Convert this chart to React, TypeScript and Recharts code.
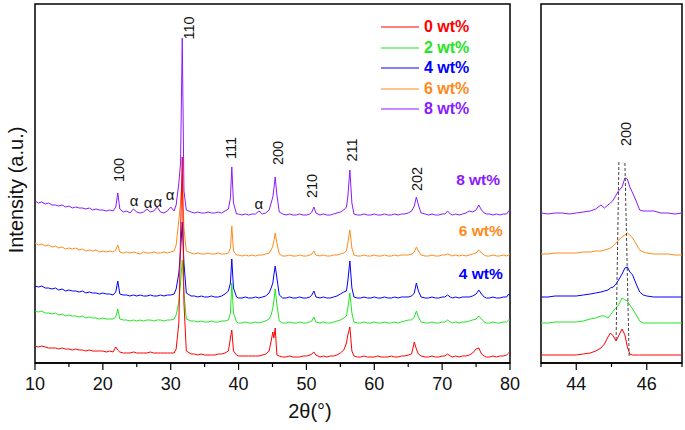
import React from "react";
import { LineChart, Line, XAxis, YAxis, Legend, ReferenceDot, ReferenceLine, ReferenceArea } from "recharts";

const font = "Arial, 'Liberation Sans', sans-serif";

const seriesNames = ["0 wt%", "2 wt%", "4 wt%", "6 wt%", "8 wt%"];
const seriesKeys = ["s0", "s2", "s4", "s6", "s8"];
const seriesColors = ["#ff0000", "#22e622", "#0000ff", "#ff8a1a", "#8a1aff"];
// order the traces are painted in (last one on top)
const drawOrder = [3, 2, 1, 0, 4];

// 2theta grid of the full scan
const twoTheta = [
  10, 10.5, 11, 11.5, 12, 12.5, 13, 13.5, 14, 14.5, 15, 15.5, 16, 16.5, 17, 17.5, 18, 18.5, 19, 19.5, 20, 20.5, 21, 21.5,
  21.9, 22.2, 22.5,
  23, 23.5, 24, 24.5, 25, 25.5, 26, 26.5, 27, 27.5, 28, 28.5, 29, 29.5, 30, 30.5,
  30.8, 31.2, 31.45, 31.7, 31.95, 32.3,
  33, 33.5, 34, 34.5, 35, 35.5, 36, 36.5, 37, 37.5, 38, 38.5,
  38.8, 39.0, 39.25,
  39.7, 40, 40.5, 41, 41.5, 42, 42.5, 43, 43.5, 44, 44.5,
  44.8, 45.05, 45.2, 45.4, 45.65, 46.0,
  46.5, 47, 47.5, 48, 48.5, 49, 49.5, 50, 50.5,
  50.8, 51.1, 51.4,
  52, 52.5, 53, 53.5, 54, 54.5, 55,
  55.5, 55.9, 56.1, 56.4, 56.7, 57.0,
  57.5, 58, 58.5, 59, 59.5, 60, 60.5, 61, 61.5, 62, 62.5, 63, 63.5, 64, 64.5, 65, 65.5,
  65.9, 66.2, 66.5, 66.9,
  67.5, 68, 68.5, 69, 69.5, 70, 70.4,
  70.8, 71.2,
  71.5, 72, 72.5, 73, 73.5, 74, 74.5,
  75.0, 75.4, 75.8, 76.2,
  76.5, 77, 77.5, 78, 78.5, 79, 79.5, 79.8, 80,
];

// stacked intensities (a.u.)
const int0 = [
  17, 16, 17, 16, 15, 15, 15, 14, 15, 14, 14, 13, 14, 13, 13, 12, 13, 12, 12, 12, 12, 11, 12, 11,
  16, 13, 11,
  10, 10, 10, 11, 10, 10, 10, 10, 11, 10, 10, 10, 10, 10, 10, 10,
  14, 40, 130, 206, 60, 12,
  9, 9, 8, 9, 8, 8, 8, 8, 9, 9, 10, 12,
  25, 33, 12,
  8, 7, 7, 7, 7, 7, 7, 7, 8, 9, 12,
  22, 31, 25, 35, 8, 7,
  6, 6, 7, 6, 6, 6, 7, 7, 8,
  9, 11, 8,
  6, 7, 6, 7, 7, 8, 10,
  13, 20, 28, 36, 12, 7,
  6, 6, 7, 6, 6, 6, 7, 6, 6, 6, 7, 6, 6, 7, 7, 8, 9,
  21, 14, 9, 7,
  6, 6, 7, 6, 6, 7, 7,
  9, 7,
  6, 7, 6, 7, 7, 8, 10,
  14, 15, 9, 7,
  6, 6, 7, 6, 7, 7, 8, 10, 9,
];
const int2 = [
  52, 51, 52, 50, 50, 49, 50, 48, 49, 47, 48, 47, 47, 46, 47, 45, 46, 45, 45, 44, 45, 44, 44, 44,
  46, 54, 44,
  43, 43, 42, 43, 42, 43, 42, 43, 43, 42, 43, 43, 42, 43, 43, 44,
  48, 61, 80, 103, 70, 44,
  42, 42, 41, 42, 41, 41, 42, 41, 41, 42, 42, 43,
  50, 80, 50,
  41, 40, 40, 41, 40, 40, 41, 40, 41, 42, 44,
  48, 55, 62, 74, 58, 42,
  40, 40, 41, 40, 40, 41, 40, 40, 41,
  42, 46, 41,
  40, 41, 40, 40, 41, 42, 43,
  45, 47, 55, 70, 50, 41,
  40, 40, 41, 40, 40, 41, 40, 40, 41, 40, 40, 41, 40, 41, 42, 43, 43,
  46, 52, 46, 41,
  40, 40, 41, 40, 40, 41, 41,
  43, 41,
  40, 41, 40, 41, 41, 42, 43,
  44, 47, 44, 41,
  40, 40, 41, 40, 40, 41, 41, 43, 43,
];
const int4 = [
  77, 76, 77, 75, 75, 74, 75, 73, 74, 72, 73, 72, 72, 71, 72, 70, 71, 70, 70, 69, 70, 69, 69, 68,
  71, 82, 69,
  68, 68, 67, 68, 67, 68, 67, 67, 68, 67, 67, 68, 67, 68, 68, 69,
  74, 90, 112, 141, 100, 70,
  67, 67, 66, 67, 66, 66, 67, 66, 66, 67, 69, 72,
  80, 104, 75,
  66, 65, 65, 66, 65, 65, 66, 65, 66, 67, 70,
  75, 80, 88, 97, 85, 68,
  65, 65, 66, 65, 65, 66, 65, 65, 66,
  68, 72, 66,
  65, 66, 65, 65, 66, 67, 69,
  71, 72, 82, 102, 75, 66,
  65, 65, 66, 65, 65, 66, 65, 65, 66, 65, 65, 66, 65, 66, 66, 66, 67,
  70, 80, 72, 66,
  65, 65, 66, 65, 65, 66, 66,
  68, 66,
  65, 66, 65, 66, 66, 66, 67,
  69, 73, 69, 66,
  65, 65, 66, 65, 65, 66, 66, 69, 67,
];
const int6 = [
  120, 118, 119, 117, 118, 116, 117, 115, 116, 114, 115, 114, 115, 113, 114, 112, 113, 112, 113, 111, 112, 111, 112, 111,
  113, 118, 111,
  110, 111, 110, 111, 110, 109, 111, 110, 110, 111, 110, 110, 111, 110, 111, 112,
  118, 143, 160, 188, 135, 112,
  110, 109, 110, 109, 109, 110, 109, 109, 110, 109, 109, 110,
  115, 137, 112,
  108, 108, 107, 108, 107, 108, 107, 108, 108, 109, 110,
  113, 117, 122, 130, 120, 109,
  107, 107, 108, 107, 107, 108, 107, 107, 108,
  109, 112, 108,
  107, 108, 107, 107, 108, 108, 109,
  110, 112, 120, 133, 115, 108,
  107, 107, 108, 107, 107, 108, 107, 107, 108, 107, 107, 108, 107, 108, 108, 108, 109,
  111, 116, 112, 108,
  107, 107, 108, 107, 107, 108, 108,
  109, 108,
  107, 108, 107, 108, 107, 108, 109,
  110, 113, 110, 108,
  107, 107, 108, 107, 107, 108, 107, 108, 109,
];
const int8 = [
  162, 160, 161, 159, 160, 158, 158, 157, 158, 156, 157, 155, 156, 155, 155, 154, 155, 153, 154, 153, 153, 152, 153, 152,
  156, 170, 154,
  151, 152, 150, 154, 151, 150, 151, 154, 151, 152, 156, 151, 150, 152, 156, 152,
  158, 180, 200, 325, 172, 153,
  151, 150, 151, 150, 150, 151, 150, 150, 151, 150, 152, 154,
  165, 196, 160,
  149, 149, 148, 149, 148, 149, 149, 152, 149, 150, 153,
  160, 166, 174, 186, 168, 151,
  149, 148, 149, 148, 148, 149, 148, 148, 149,
  151, 156, 150,
  148, 149, 148, 148, 149, 150, 151,
  153, 156, 166, 193, 160, 149,
  148, 148, 149, 148, 148, 149, 148, 148, 149, 148, 148, 149, 148, 149, 149, 150, 152,
  157, 166, 158, 150,
  149, 148, 149, 148, 148, 149, 149,
  152, 149,
  148, 149, 148, 149, 150, 152, 151,
  153, 158, 153, 150,
  149, 149, 148, 149, 148, 149, 149, 152, 151,
];

// close-up of the (200) reflection
const zoomTheta = [
  43.0, 43.2, 43.4, 43.6, 43.8, 44.0, 44.2, 44.4, 44.55, 44.7, 44.8, 44.9, 44.97, 45.05, 45.13,
  45.2, 45.3, 45.38, 45.45, 45.52, 45.6, 45.7, 45.8, 45.9, 46.0, 46.2, 46.4, 46.6, 46.8, 47.0,
];
const zoom0 = [8, 8, 8, 8, 8, 8, 9, 10, 12, 15, 19, 26, 30, 27, 22, 27, 34, 28, 16, 9, 8, 8, 8, 8, 8, 8, 8, 8, 8, 8];
const zoom2 = [40, 40, 41, 41, 41, 41, 42, 44, 45, 47, 47, 45, 48, 52, 55, 58, 65, 63, 62, 58, 54, 48, 42, 40, 40, 40, 40, 40, 40, 40];
const zoom4 = [66, 66, 67, 67, 67, 67, 68, 69, 70, 71, 72, 73, 75, 76, 79, 83, 89, 95, 96, 91, 88, 79, 71, 68, 67, 66, 66, 66, 66, 66];
const zoom6 = [109, 109, 110, 110, 110, 110, 111, 111, 112, 112, 113, 114, 115, 117, 120, 123, 126, 128, 130, 128, 125, 119, 113, 111, 110, 109, 109, 109, 108, 108];
const zoom8 = [150, 149, 150, 150, 149, 150, 151, 152, 154, 158, 155, 158, 160, 163, 168, 172, 176, 185, 184, 176, 170, 162, 153, 152, 152, 152, 150, 150, 149, 150];

const mainTicks = [10, 15, 20, 25, 30, 35, 40, 45, 50, 55, 60, 65, 70, 75, 80];
const mainLabelled = [10, 20, 30, 40, 50, 60, 70, 80];
const zoomTicks = [43, 44, 45, 46, 47];
const zoomLabelled = [44, 46];

const peakLabels = ["100", "110", "111", "200", "210", "211", "202"];
const peakLabelTheta = [22.4, 32.7, 38.9, 45.8, 50.8, 56.7, 66.3];
const peakLabelY = [193, 335, 215, 210, 177, 213, 184];
const alphaTheta = [24.6, 26.65, 28.1, 29.9, 43.0];
const alphaY = [163, 161, 162, 169, 160];
const sideLabelSeries = [4, 3, 2];
const sideLabelTheta = [75.3, 75.7, 75.7];
const sideLabelY = [184, 133, 90];

const mainData = twoTheta.map((x, i) => ({ x, s0: int0[i], s2: int2[i], s4: int4[i], s6: int6[i], s8: int8[i] }));
const zoomData = zoomTheta.map((x, i) => ({ x, s0: zoom0[i], s2: zoom2[i], s4: zoom4[i], s6: zoom6[i], s8: zoom8[i] }));

const yDomain: [number, number] = [0, 359];
const axisStyle = { stroke: "#000", strokeWidth: 1.5 };

function makeTick(labelled: number[]) {
  return (props: any) => {
    const { x, y, payload } = props;
    const major = labelled.includes(payload.value);
    return (
      <g>
        <line x1={x} x2={x} y1={y} y2={y + (major ? 7 : 4)} stroke="#000" strokeWidth={1.2} />
        {major && (
          <text x={x} y={y + 27} textAnchor="middle" fontSize={18} fontFamily={font} fill="#111">
            {payload.value}
          </text>
        )}
      </g>
    );
  };
}

function textShape(value: string, opts: { rotate?: boolean; size: number; color?: string; bold?: boolean }) {
  return (p: any) => (
    <text
      x={p.cx}
      y={p.cy}
      transform={opts.rotate ? `rotate(-90 ${p.cx} ${p.cy})` : undefined}
      textAnchor="middle"
      dominantBaseline="central"
      fontSize={opts.size}
      fontFamily={font}
      fontWeight={opts.bold ? "bold" : "normal"}
      fill={opts.color || "#111"}
    >
      {value}
    </text>
  );
}

function LegendBox() {
  return (
    <div style={{ fontFamily: font }}>
      {seriesNames.map((n, i) => (
        <div key={n} style={{ display: "flex", alignItems: "center", height: 20.5 }}>
          <svg width={38} height={4}>
            <line x1={0} x2={38} y1={2} y2={2} stroke={seriesColors[i]} strokeWidth={1.2} />
          </svg>
          <span style={{ marginLeft: 5, fontSize: 16, fontWeight: "bold", color: seriesColors[i], lineHeight: "20.5px" }}>{n}</span>
        </div>
      ))}
    </div>
  );
}

export default function App() {
  return (
    <div style={{ position: "absolute", left: 0, top: 0, width: 685, height: 430, background: "#fff" }}>
      <div style={{ position: "absolute", left: 0, top: 0 }}>
        <LineChart width={520} height={430} data={mainData} margin={{ top: 4, right: 10, left: 35, bottom: 37 }}>
          <XAxis
            dataKey="x"
            type="number"
            domain={[10, 80]}
            ticks={mainTicks}
            interval={0}
            tickSize={0}
            tickMargin={0}
            tickLine={false}
            height={30}
            axisLine={axisStyle}
            tick={makeTick(mainLabelled)}
            allowDataOverflow
          />
          <YAxis type="number" domain={yDomain} hide />
          <ReferenceArea x1={10} x2={80} y1={0} y2={359} fill="none" fillOpacity={0} stroke="#000" strokeWidth={1.5} ifOverflow="visible" />
          {drawOrder.map((i) => (
            <Line
              key={seriesKeys[i]}
              dataKey={seriesKeys[i]}
              name={seriesNames[i]}
              stroke={seriesColors[i]}
              strokeWidth={1}
              dot={false}
              type="linear"
              isAnimationActive={false}
            />
          ))}
          {peakLabels.map((t, i) => (
            <ReferenceDot key={"p" + t} x={peakLabelTheta[i]} y={peakLabelY[i]} r={1} shape={textShape(t, { rotate: true, size: 14.5 })} />
          ))}
          {alphaTheta.map((x, i) => (
            <ReferenceDot key={"a" + i} x={x} y={alphaY[i]} r={1} shape={textShape("α", { size: 15 })} />
          ))}
          {sideLabelSeries.map((s, i) => (
            <ReferenceDot
              key={"s" + s}
              x={sideLabelTheta[i]}
              y={sideLabelY[i]}
              r={1}
              shape={textShape(seriesNames[s], { size: 15.5, bold: true, color: seriesColors[s] })}
            />
          ))}
          <Legend
            layout="vertical"
            align="center"
            verticalAlign="middle"
            wrapperStyle={{ left: 381, top: 17, width: 130 }}
            content={() => <LegendBox />}
          />
        </LineChart>
      </div>
      <div style={{ position: "absolute", left: 530, top: 0 }}>
        <LineChart width={155} height={430} data={zoomData} margin={{ top: 4, right: 3, left: 11, bottom: 37 }}>
          <XAxis
            dataKey="x"
            type="number"
            domain={[43, 47]}
            ticks={zoomTicks}
            interval={0}
            tickSize={0}
            tickMargin={0}
            tickLine={false}
            height={30}
            axisLine={axisStyle}
            tick={makeTick(zoomLabelled)}
            allowDataOverflow
          />
          <YAxis type="number" domain={yDomain} hide />
          <ReferenceArea x1={43} x2={47} y1={0} y2={359} fill="none" fillOpacity={0} stroke="#000" strokeWidth={1.5} ifOverflow="visible" />
          {drawOrder.map((i) => (
            <Line
              key={seriesKeys[i]}
              dataKey={seriesKeys[i]}
              stroke={seriesColors[i]}
              strokeWidth={1}
              dot={false}
              type="linear"
              isAnimationActive={false}
            />
          ))}
          <ReferenceLine segment={[{ x: 45.21, y: 201 }, { x: 45.13, y: 22 }]} stroke="#444" strokeDasharray="3 2" strokeWidth={1} />
          <ReferenceLine segment={[{ x: 45.38, y: 200 }, { x: 45.5, y: 7 }]} stroke="#444" strokeDasharray="3 2" strokeWidth={1} />
          <ReferenceDot x={45.41} y={229} r={1} shape={textShape("200", { rotate: true, size: 14.5 })} />
        </LineChart>
      </div>
      <svg width={685} height={430} style={{ position: "absolute", left: 0, top: 0, pointerEvents: "none" }}>
        <text x={16} y={190} transform="rotate(-90 16 190)" textAnchor="middle" dominantBaseline="central" fontSize={20} fontFamily={font} fill="#111">
          Intensity (a.u.)
        </text>
        <text x={310} y={411} textAnchor="middle" dominantBaseline="central" fontSize={20} fontFamily={font} fill="#111">
          2θ(°)
        </text>
      </svg>
    </div>
  );
}
